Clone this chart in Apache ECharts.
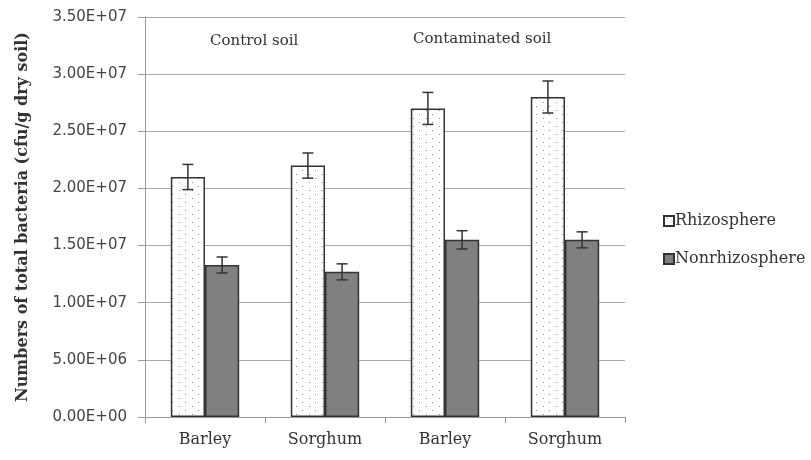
<!DOCTYPE html>
<html>
<head>
<meta charset="utf-8">
<script src="https://cdn.jsdelivr.net/npm/echarts@6/dist/echarts.min.js"></script>
<style>
  html, body { margin: 0; padding: 0; background: #fff; }
  #chart { width: 811px; height: 460px; }
</style>
</head>
<body>
<div id="chart"></div>
<script>
// Plant groups along the x axis (control soil pair, then contaminated soil pair)
const categories = ['Barley', 'Sorghum', 'Barley ', 'Sorghum '];
const categoryLabels = ['Barley', 'Sorghum', 'Barley', 'Sorghum'];

// Bacterial counts (cfu/g dry soil) and their standard errors
const rhizosphere = [2.10e7, 2.20e7, 2.70e7, 2.80e7];
const rhizosphereErr = [1.1e6, 1.1e6, 1.4e6, 1.4e6];
const nonrhizosphere = [1.33e7, 1.27e7, 1.55e7, 1.55e7];
const nonrhizosphereErr = [7.0e5, 7.0e5, 8.0e5, 7.0e5];

// Y axis range and step
const yMin = 0;
const yMax = 3.5e7;
const yStep = 5e6;

const seriesNames = ['Rhizosphere', 'Nonrhizosphere'];
const groupLabels = ['Control soil', 'Contaminated soil'];

const barCategoryGap = 0.43;

// Stippled fill for the rhizosphere bars
function dotPattern() {
  const c = document.createElement('canvas');
  c.width = 13; c.height = 8;
  const g = c.getContext('2d');
  g.fillStyle = '#ffffff';
  g.fillRect(0, 0, 13, 8);
  g.fillStyle = '#8f8f8f';
  g.fillRect(3, 2, 1, 1);
  g.fillRect(10, 6, 1, 1);
  return c;
}

// Scientific notation with a two-digit exponent, e.g. 3.50E+07
function sci(v) {
  if (v === 0) return '0.00E+00';
  const exp = Math.floor(Math.log10(Math.abs(v)));
  const mant = v / Math.pow(10, exp);
  const sign = exp < 0 ? '-' : '+';
  const e = String(Math.abs(exp)).padStart(2, '0');
  return mant.toFixed(2) + 'E' + sign + e;
}

// Error bar renderer, shifted to sit over its own bar in the group
function errorBars(side) {
  return function (params, api) {
    const idx = api.value(0);
    const v = api.value(1);
    const e = api.value(2);
    const band = api.size([1, 0])[0];
    const barW = band * (1 - barCategoryGap) / 2;
    const x = api.coord([idx, 0])[0] + side * barW / 2;
    const yTop = api.coord([idx, v + e])[1];
    const yBot = api.coord([idx, v - e])[1];
    const cap = 5.5;
    const style = { stroke: '#333', lineWidth: 1.5 };
    return {
      type: 'group',
      children: [
        { type: 'line', shape: { x1: x, y1: yTop, x2: x, y2: yBot }, style },
        { type: 'line', shape: { x1: x - cap, y1: yTop, x2: x + cap, y2: yTop }, style },
        { type: 'line', shape: { x1: x - cap, y1: yBot, x2: x + cap, y2: yBot }, style }
      ]
    };
  };
}

const serif = '"DejaVu Serif", "Liberation Serif", serif';
const chart = echarts.init(document.getElementById('chart'), null, { renderer: 'canvas' });

chart.setOption({
  animation: false,
  backgroundColor: '#ffffff',
  grid: { left: 145, right: 186, top: 17, bottom: 43 },
  legend: {
    orient: 'vertical',
    left: 658,
    top: 208,
    icon: 'rect',
    itemWidth: 10,
    itemHeight: 10,
    itemGap: 22,
    data: seriesNames,
    textStyle: { fontFamily: serif, fontSize: 16, color: '#333', padding: [0, 0, 0, -4] }
  },
  xAxis: {
    type: 'category',
    data: categories,
    axisLine: { lineStyle: { color: '#999', width: 1 } },
    axisTick: { show: true, length: 6, lineStyle: { color: '#999' } },
    axisLabel: {
      margin: 15,
      fontFamily: serif,
      fontSize: 16,
      color: '#333',
      formatter: (v, i) => categoryLabels[i]
    }
  },
  yAxis: {
    type: 'value',
    min: yMin,
    max: yMax,
    interval: yStep,
    name: 'Numbers of total bacteria (cfu/g dry soil)',
    nameLocation: 'middle',
    nameGap: 114,
    nameTextStyle: {
      fontFamily: serif,
      fontWeight: 'bold',
      fontSize: 16,
      color: '#333'
    },
    axisLine: { show: true, lineStyle: { color: '#999', width: 1 } },
    axisTick: { show: true, length: 7, lineStyle: { color: '#999' } },
    axisLabel: {
      margin: 18,
      fontFamily: '"DejaVu Sans", sans-serif',
      fontSize: 15,
      color: '#444',
      formatter: sci
    },
    splitLine: { lineStyle: { color: '#aaa', width: 1 } }
  },
  graphic: [
    { type: 'text', left: 210, top: 34, style: { text: groupLabels[0], font: '15px ' + serif, fill: '#333' } },
    { type: 'text', left: 413, top: 32, style: { text: groupLabels[1], font: '15px ' + serif, fill: '#333' } }
  ],
  series: [
    {
      name: seriesNames[0],
      type: 'bar',
      data: rhizosphere,
      barGap: '0%',
      barCategoryGap: (barCategoryGap * 100) + '%',
      itemStyle: {
        color: { image: dotPattern(), repeat: 'repeat' },
        borderColor: '#333',
        borderWidth: 1.5
      }
    },
    {
      name: seriesNames[1],
      type: 'bar',
      data: nonrhizosphere,
      itemStyle: { color: '#808080', borderColor: '#333', borderWidth: 1.5 }
    },
    {
      type: 'custom',
      renderItem: errorBars(-1),
      data: rhizosphere.map((v, i) => [i, v, rhizosphereErr[i]]),
      encode: { x: 0, y: 1 },
      z: 10,
      silent: true
    },
    {
      type: 'custom',
      renderItem: errorBars(1),
      data: nonrhizosphere.map((v, i) => [i, v, nonrhizosphereErr[i]]),
      encode: { x: 0, y: 1 },
      z: 10,
      silent: true
    }
  ]
});
</script>
</body>
</html>
